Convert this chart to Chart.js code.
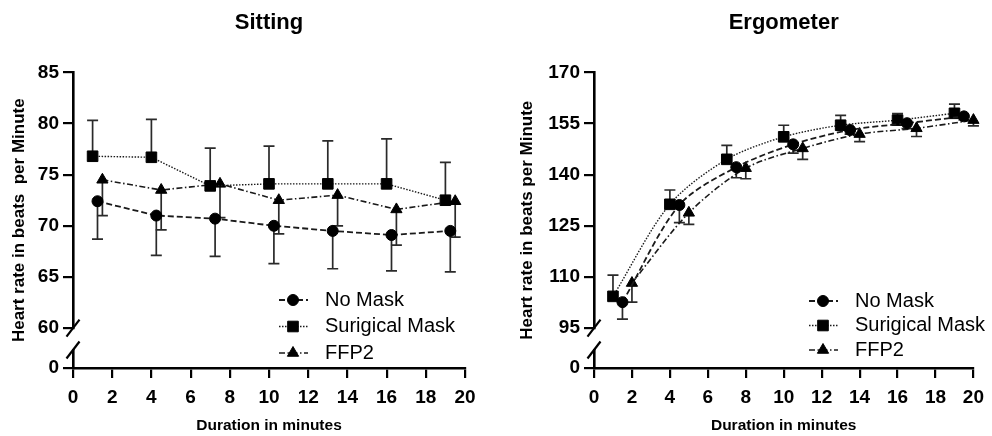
<!DOCTYPE html>
<html>
<head>
<meta charset="utf-8">
<script src="https://cdn.jsdelivr.net/npm/chart.js@4.4.1/dist/chart.umd.min.js"></script>
<style>
  html, body { margin: 0; padding: 0; background: #fff; }
  .wrap { display: flex; width: 992px; height: 436px; }
  .panel { position: relative; width: 496px; height: 436px; }
</style>
</head>
<body>
<div class="wrap">
  <div class="panel"><canvas id="sitting"></canvas></div>
  <div class="panel"><canvas id="ergometer"></canvas></div>
</div>
<script>
// series names (as printed in the figure)
const seriesLabels = ['No Mask', 'Surigical Mask', 'FFP2'];

// tick labels
const xTickValues = [0, 2, 4, 6, 8, 10, 12, 14, 16, 18, 20];
const sittingYTicks = [60, 65, 70, 75, 80, 85];
const ergoYTicks = [95, 110, 125, 140, 155, 170];

// Sitting: minutes (markers are slightly shifted per group), mean and SD
const sittingMinutesNoMask = [1.25, 4.25, 7.25, 10.25, 13.25, 16.25, 19.25];
const sittingMinutesSurgical = [1, 4, 7, 10, 13, 16, 19];
const sittingMinutesFfp2 = [1.5, 4.5, 7.5, 10.5, 13.5, 16.5, 19.5];
const sittingNoMask = [72.4, 71.0, 70.7, 70.0, 69.5, 69.1, 69.5];
const sittingNoMaskSd = [3.7, 3.9, 3.7, 3.7, 3.7, 3.5, 4.0];
const sittingSurgical = [76.8, 76.7, 73.9, 74.1, 74.1, 74.1, 72.5];
const sittingSurgicalSd = [3.5, 3.7, 3.7, 3.7, 4.2, 4.4, 3.7];
const sittingFfp2 = [74.5, 73.5, 74.1, 72.5, 73.0, 71.6, 72.4];
const sittingFfp2Sd = [3.5, 3.9, 3.3, 3.3, 3.0, 3.5, 3.5];

// Ergometer
const ergoMinutesNoMask = [1.5, 4.5, 7.5, 10.5, 13.5, 16.5, 19.5];
const ergoMinutesSurgical = [1, 4, 7, 10, 13, 16, 19];
const ergoMinutesFfp2 = [2, 5, 8, 11, 14, 17, 20];
const ergoNoMask = [102.6, 131.1, 142.2, 148.9, 153.1, 155.1, 157.1];
const ergoNoMaskSd = [5.0, 5.2, 3.1, 2.6, 1.2, 1.6, 1.0];
const ergoSurgical = [104.3, 131.3, 144.5, 151.1, 154.5, 156.0, 158.0];
const ergoSurgicalSd = [6.2, 4.2, 4.1, 3.4, 2.9, 1.9, 2.7];
const ergoFfp2 = [108.2, 128.8, 141.9, 147.7, 151.9, 153.6, 156.0];
const ergoFfp2Sd = [5.6, 3.4, 3.1, 3.2, 2.2, 2.4, 1.7];

Chart.defaults.font.family = '"Liberation Sans", Arial, Helvetica, sans-serif';
Chart.defaults.color = '#000';

const tickFont = { size: 19, weight: 'bold' };
const yTitleFont = { size: 17, weight: 'bold' };
const xTitleFont = { size: 15.5, weight: 'bold' };

// one-sided whiskers: no mask and FFP2 point down, surgical mask up
const styles = [
  { pointStyle: 'circle', radius: 5.5, dash: [6, 3], width: 1.8, dir: -1 },
  { pointStyle: 'rect', radius: 7.5, dash: [1.5, 1.5], width: 1.4, dir: 1 },
  { pointStyle: 'triangle', radius: 6.5, dash: [6, 2.5, 1.5, 2.5], width: 1.6, dir: -1 }
];

function toPoints(xs, ys) {
  return xs.map((x, i) => ({ x: x, y: ys[i] }));
}

function buildChart(canvasId, cfg) {
  const datasets = cfg.series.map((s, i) => ({
    label: seriesLabels[i],
    data: toPoints(s.x, s.y),
    errors: s.sd,
    errDir: styles[i].dir,
    xAxisID: 'x',
    yAxisID: 'y',
    borderColor: '#1a1a1a',
    borderWidth: styles[i].width,
    borderDash: styles[i].dash,
    pointStyle: styles[i].pointStyle,
    pointRadius: styles[i].radius,
    pointHoverRadius: styles[i].radius,
    pointBackgroundColor: '#000',
    pointBorderColor: '#000',
    pointBorderWidth: 1,
    tension: cfg.tension,
    fill: false,
    clip: false
  }));

  const errorBars = {
    id: 'errorBars',
    beforeDatasetsDraw(chart) {
      const ctx = chart.ctx;
      const xs = chart.scales.x, ys = chart.scales.y;
      ctx.save();
      ctx.strokeStyle = '#2a2a2a';
      ctx.lineWidth = 1.7;
      chart.data.datasets.forEach(ds => {
        ds.data.forEach((p, i) => {
          const px = xs.getPixelForValue(p.x);
          const p0 = ys.getPixelForValue(p.y);
          const p1 = ys.getPixelForValue(p.y + ds.errDir * ds.errors[i]);
          ctx.beginPath();
          ctx.moveTo(px, p0);
          ctx.lineTo(px, p1);
          ctx.moveTo(px - 5.5, p1);
          ctx.lineTo(px + 5.5, p1);
          ctx.stroke();
        });
      });
      ctx.restore();
    }
  };

  const axisBreak = {
    id: 'axisBreak',
    afterDraw(chart) {
      const ctx = chart.ctx;
      const x = chart.chartArea.left;
      const marks = [chart.scales.y.bottom, chart.scales.y0.top];
      ctx.save();
      ctx.strokeStyle = '#000';
      ctx.lineWidth = 2.2;
      marks.forEach(yy => {
        ctx.beginPath();
        ctx.moveTo(x - 6.5, yy + 8.5);
        ctx.lineTo(x + 6.5, yy - 8.5);
        ctx.stroke();
      });
      ctx.restore();
    }
  };

  const lineLegend = {
    id: 'lineLegend',
    afterDraw(chart) {
      const ctx = chart.ctx;
      const lg = cfg.legend;
      ctx.save();
      chart.data.datasets.forEach((ds, i) => {
        const cy = lg.y + i * lg.gap;
        ctx.strokeStyle = '#1a1a1a';
        ctx.lineWidth = ds.borderWidth;
        ctx.setLineDash(ds.borderDash);
        ctx.beginPath();
        ctx.moveTo(lg.x - 14, cy);
        ctx.lineTo(lg.x + 15, cy);
        ctx.stroke();
        ctx.setLineDash([]);
        ctx.fillStyle = '#000';
        ctx.strokeStyle = '#000';
        ctx.lineWidth = 1;
        Chart.helpers.drawPoint(ctx, { pointStyle: ds.pointStyle, radius: ds.pointRadius, rotation: 0, borderWidth: 1 }, lg.x, cy);
        ctx.fillStyle = '#000';
        ctx.font = '20px "Liberation Sans", Arial, sans-serif';
        ctx.textBaseline = 'middle';
        ctx.textAlign = 'left';
        ctx.fillText(ds.label, lg.x + 32, cy);
      });
      ctx.restore();
    }
  };

  const axisGrid = { display: true, drawOnChartArea: false, drawTicks: true, tickLength: 10, color: '#000', lineWidth: 2.2 };
  const axisBorder = { display: true, color: '#000', width: 2.6 };

  return new Chart(document.getElementById(canvasId), {
    type: 'line',
    data: { datasets: datasets },
    options: {
      responsive: true,
      maintainAspectRatio: false,
      animation: false,
      layout: { padding: { left: 0, right: cfg.padRight, top: 0, bottom: 0 } },
      plugins: {
        legend: { display: false },
        tooltip: { enabled: false },
        title: {
          display: true,
          text: cfg.title,
          fullSize: false,
          color: '#000',
          font: { size: 22, weight: 'bold' },
          padding: { top: 10, bottom: 36 }
        }
      },
      scales: {
        x: {
          type: 'linear',
          min: 0,
          max: 20,
          afterBuildTicks: s => { s.ticks = xTickValues.map(v => ({ value: v })); },
          ticks: { font: tickFont, color: '#000', padding: 8, maxRotation: 0 },
          grid: axisGrid,
          border: axisBorder,
          title: { display: true, text: 'Duration in minutes', color: '#000', font: xTitleFont, padding: { top: 0, bottom: 1 } },
          afterFit: s => { s.height = 68; }
        },
        yLabel: {
          type: 'linear',
          position: 'left',
          weight: 10,
          ticks: { display: false },
          grid: { display: false },
          border: { display: false },
          title: { display: true, text: cfg.yTitle, color: '#000', font: yTitleFont, padding: { top: cfg.labelPad, bottom: 0 } },
          afterFit: s => { s.width = cfg.labelWidth; }
        },
        y: {
          type: 'linear',
          position: 'left',
          stack: 'v',
          stackWeight: 256,
          weight: 3,
          min: cfg.yTicks[0],
          max: cfg.yTicks[cfg.yTicks.length - 1],
          afterBuildTicks: s => { s.ticks = cfg.yTicks.map(v => ({ value: v })); },
          ticks: { font: tickFont, color: '#000', padding: 4 },
          grid: axisGrid,
          border: axisBorder,
          afterFit: s => { s.width = cfg.stackWidth; }
        },
        yGap: {
          type: 'linear',
          position: 'left',
          stack: 'v',
          stackWeight: 22,
          weight: 2,
          display: false
        },
        y0: {
          type: 'linear',
          position: 'left',
          stack: 'v',
          stackWeight: 18,
          weight: 1,
          min: 0,
          max: 1,
          afterBuildTicks: s => { s.ticks = [{ value: 0 }]; },
          ticks: { font: tickFont, color: '#000', padding: 4 },
          grid: axisGrid,
          border: axisBorder,
          afterFit: s => { s.width = cfg.stackWidth; }
        }
      }
    },
    plugins: [errorBars, axisBreak, lineLegend]
  });
}

buildChart('sitting', {
  title: 'Sitting',
  yTitle: 'Heart rate in beats  per Minute',
  yTicks: sittingYTicks,
  tension: 0,
  padRight: 31,
  labelWidth: 30,
  labelPad: 9,
  stackWidth: 43,
  legend: { x: 293, y: 300, gap: 26.5 },
  series: [
    { x: sittingMinutesNoMask, y: sittingNoMask, sd: sittingNoMaskSd },
    { x: sittingMinutesSurgical, y: sittingSurgical, sd: sittingSurgicalSd },
    { x: sittingMinutesFfp2, y: sittingFfp2, sd: sittingFfp2Sd }
  ]
});

buildChart('ergometer', {
  title: 'Ergometer',
  yTitle: 'Heart rate in beats per Minute',
  yTicks: ergoYTicks,
  tension: 0.3,
  padRight: 11,
  labelWidth: 45,
  labelPad: 21,
  stackWidth: 53,
  legend: { x: 327, y: 301, gap: 24.5 },
  series: [
    { x: ergoMinutesNoMask, y: ergoNoMask, sd: ergoNoMaskSd },
    { x: ergoMinutesSurgical, y: ergoSurgical, sd: ergoSurgicalSd },
    { x: ergoMinutesFfp2, y: ergoFfp2, sd: ergoFfp2Sd }
  ]
});
</script>
</body>
</html>
